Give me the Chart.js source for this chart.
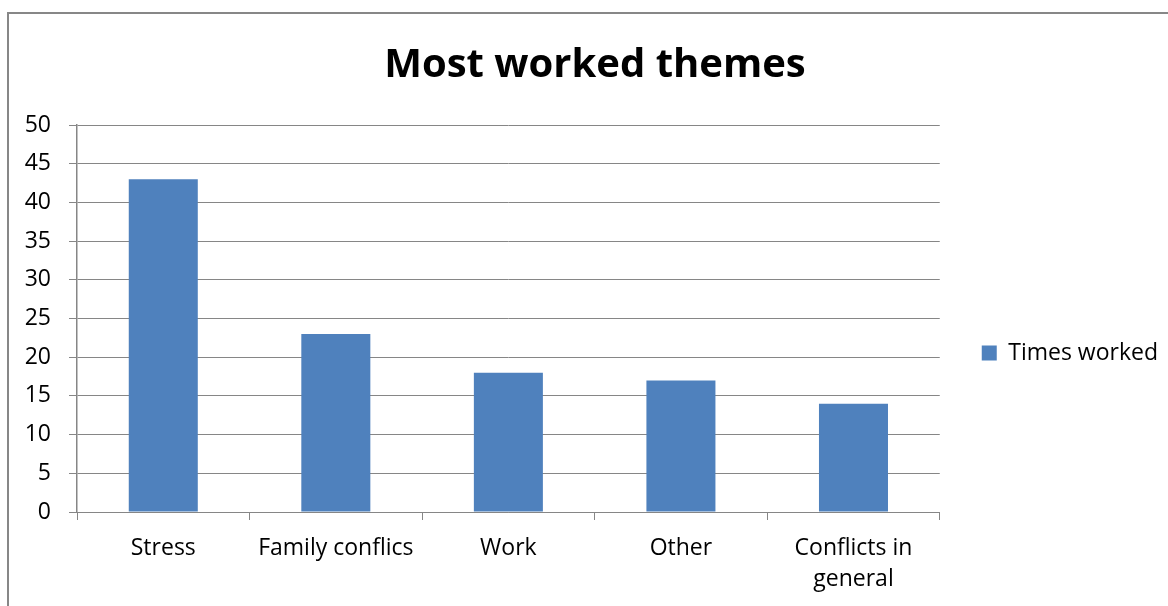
<!DOCTYPE html>
<html>
<head>
<meta charset="utf-8">
<title>Most worked themes</title>
<script src="https://cdn.jsdelivr.net/npm/chart.js@4/dist/chart.umd.min.js"></script>
<style>
  html, body {
    margin: 0;
    padding: 0;
    background: #ffffff;
    overflow: hidden;
  }
  #frame {
    position: absolute;
    left: 7px;
    top: 12px;
    width: 1200px;
    height: 700px;
    border: 2px solid #878787;
  }
  #themesChart {
    position: absolute;
    left: 0;
    top: 0;
  }
</style>
</head>
<body>
<div id="frame"></div>
<!-- canvas runs past the bottom edge of the window so the legend sits a bit lower -->
<canvas id="themesChart" width="1190" height="706"></canvas>

<script>
// Chart data
const categories = ["Stress", "Family conflics", "Work", "Other", ["Conflicts in", "general"]];
const timesWorked = [43, 23, 18, 17, 14];
const yTicks = { min: 0, max: 50, step: 5 };

const FONT = "'Open Sans', 'Liberation Sans', sans-serif";
const GRID = "#868686";

document.addEventListener("DOMContentLoaded", function () {
  const canvas = document.getElementById("themesChart");

  new Chart(canvas.getContext("2d"), {
    type: "bar",
    data: {
      labels: categories,
      datasets: [
        {
          label: "Times worked",
          data: timesWorked,
          backgroundColor: "#4f81bd",
          borderWidth: 0,
          barPercentage: 0.4,
          categoryPercentage: 1.0,
        },
      ],
    },
    options: {
      responsive: false,
      animation: false,
      devicePixelRatio: 1,
      layout: {
        padding: { left: 22, right: 22, top: 0, bottom: 0 },
      },
      plugins: {
        title: {
          display: true,
          text: "Most worked themes",
          color: "#000000",
          font: { family: FONT, size: 40, weight: "bold" },
          padding: { top: 42, bottom: 35 },
        },
        legend: {
          position: "right",
          align: "center",
          labels: {
            color: "#000000",
            font: { family: FONT, size: 23 },
            boxWidth: 15,
            boxHeight: 15,
            padding: 42,
          },
        },
        tooltip: { enabled: false },
      },
      scales: {
        x: {
          offset: true,
          grid: {
            drawOnChartArea: false,
            drawTicks: true,
            tickLength: 8,
            color: GRID,
          },
          border: { color: GRID, width: 1 },
          ticks: {
            color: "#000000",
            font: { family: FONT, size: 23, lineHeight: 1.35 },
            padding: 13,
            maxRotation: 0,
            autoSkip: false,
          },
          afterFit: function (scale) {
            scale.height = 194;
          },
        },
        y: {
          min: yTicks.min,
          max: yTicks.max,
          grid: {
            color: GRID,
            tickLength: 8,
          },
          border: { color: GRID, width: 1.5 },
          ticks: {
            stepSize: yTicks.step,
            color: "#000000",
            font: { family: FONT, size: 23 },
            padding: 18,
          },
          afterFit: function (scale) {
            scale.width = 55;
          },
        },
      },
    },
  });
});
</script>
</body>
</html>
